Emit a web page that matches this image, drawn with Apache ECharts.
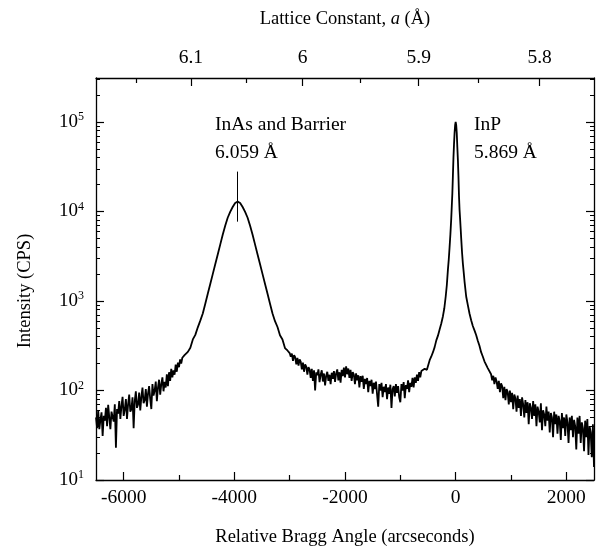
<!DOCTYPE html>
<html>
<head>
<meta charset="utf-8">
<title>XRD rocking curve</title>
<script src="https://cdn.jsdelivr.net/npm/echarts@6/dist/echarts.min.js"></script>
<style>
html, body { margin: 0; padding: 0; background: #fff; }
#chart { width: 597px; height: 552px; }
</style>
</head>
<body>
<div id="chart"></div>
<script>
var angle = [
	// background, low-angle side
	-6500,-6480,-6460,-6440,-6420,-6400,-6380,-6360,-6340,-6320,-6300,-6280,-6260,-6240,-6220,-6200,-6180,-6160,-6140,-6120,
	-6100,-6080,-6060,-6040,-6020,-6000,-5980,-5960,-5940,-5920,-5900,-5880,-5860,-5840,-5820,-5800,-5780,-5760,-5740,-5720,
	-5700,-5680,-5660,-5640,-5620,-5600,-5580,-5560,-5540,-5520,-5500,-5480,-5460,-5440,-5420,-5400,-5380,-5360,-5340,-5320,
	-5300,-5280,-5260,-5240,-5220,-5200,-5180,-5160,-5140,-5120,-5100,-5080,-5060,-5040,-5020,-5000,-4980,-4960,-4940,-4920,
	-4900,-4880,
	// InAs / barrier peak
	-4840,-4795,-4750,-4705,-4660,-4615,-4570,-4525,-4480,-4435,-4390,-4345,-4300,-4255,-4210,-4165,-4120,-4075,-4030,-3985,
	-3940,-3895,-3850,-3805,-3760,-3715,-3670,-3625,-3580,-3535,-3490,-3445,-3400,-3355,-3310,-3265,-3220,-3175,-3130,-3085,-3040,
	// between the peaks
	-3000,-2980,-2960,-2940,-2920,-2900,-2880,-2860,-2840,-2820,-2800,-2780,-2760,-2740,-2720,-2700,-2680,-2660,-2640,-2620,
	-2600,-2580,-2560,-2540,-2520,-2500,-2480,-2460,-2440,-2420,-2400,-2380,-2360,-2340,-2320,-2300,-2280,-2260,-2240,-2220,
	-2200,-2180,-2160,-2140,-2120,-2100,-2080,-2060,-2040,-2020,-2000,-1980,-1960,-1940,-1920,-1900,-1880,-1860,-1840,-1820,
	-1800,-1780,-1760,-1740,-1720,-1700,-1680,-1660,-1640,-1620,-1600,-1580,-1560,-1540,-1520,-1500,-1480,-1460,-1440,-1420,
	-1400,-1380,-1360,-1340,-1320,-1300,-1280,-1260,-1240,-1220,-1200,-1180,-1160,-1140,-1120,-1100,-1080,-1060,-1040,-1020,
	-1000,-980,-960,-940,-920,-900,-880,-860,-840,-820,-800,-780,-760,-740,-720,-700,-680,-660,-640,-620,
	// InP substrate peak
	-600,-560,-520,-470,-440,-410,-380,-350,-320,-290,-260,-230,-205,-180,-160,-140,-125,-110,-95,-80,-70,-60,-50,-40,-30,-20,-10,
	0,10,20,30,40,50,60,70,80,90,100,115,130,145,160,190,220,250,280,310,340,370,400,430,460,490,520,550,580,610,
	// background, high-angle side
	640,660,680,700,720,740,760,780,800,820,840,860,880,900,920,940,960,980,1000,1020,
	1040,1060,1080,1100,1120,1140,1160,1180,1200,1220,1240,1260,1280,1300,1320,1340,1360,1380,1400,1420,
	1440,1460,1480,1500,1520,1540,1560,1580,1600,1620,1640,1660,1680,1700,1720,1740,1760,1780,1800,1820,
	1840,1860,1880,1900,1920,1940,1960,1980,2000,2020,2040,2060,2080,2100,2120,2140,2160,2180,2200,2220,
	2240,2260,2280,2300,2320,2340,2360,2380,2400,2420,2440,2460,2480,2500
];
var intensity = [
	50,38,60,37,47,57,31,52,46,64,40,69,50,37,58,56,45,70,23,62,
	55,76,48,67,85,52,61,80,48,70,90,58,62,84,38,76,98,64,70,95,
	60,85,108,72,78,104,66,92,112,80,62,118,88,100,126,76,108,132,90,118,
	140,98,125,108,152,112,160,128,175,140,168,150,195,162,205,182,222,200,232,222,
	248,246,
	270,300,372,418,508,603,724,933,1202,1549,1995,2570,3311,4266,5495,6918,8511,9886,11220,12445,
	12882,12445,11220,9886,8511,6918,5495,4266,3311,2570,1995,1549,1202,933,724,595,512,415,372,298,280,
	262,238,258,214,248,235,196,232,190,222,210,172,205,162,196,185,150,182,172,138,
	175,128,168,100,160,148,172,124,150,168,126,155,114,146,162,128,150,118,158,135,
	165,125,155,172,130,160,122,170,145,180,140,186,152,176,138,170,128,160,150,118,
	155,130,148,108,145,125,146,104,135,118,138,96,128,112,132,92,122,104,126,90,
	66,118,100,122,84,110,96,118,80,108,92,116,64,104,112,86,118,94,112,84,
	74,118,100,124,82,115,104,130,96,122,110,138,108,140,122,150,128,160,140,165,
	160,175,170,218,240,268,305,363,410,479,560,676,830,1122,1500,2239,2900,3981,5600,8318,11500,15849,25000,39811,56234,75000,92000,
	100000,92000,75000,52481,38000,25119,15000,10500,8318,6500,5012,3500,2630,2100,1660,1122,900,724,610,525,470,417,360,316,268,240,212,205,178,170,
	152,130,146,118,140,126,104,128,96,120,112,82,110,78,104,96,70,100,74,94,
	62,90,82,58,88,64,80,52,84,70,50,78,56,74,42,72,64,48,76,52,
	70,40,66,58,44,72,36,60,54,40,66,46,58,34,56,50,30,58,42,54,
	33,52,46,28,56,38,50,31,54,44,26,50,36,52,30,47,40,22,50,33,
	52,26,44,38,21,46,30,48,19,40,34,18,42,14
];

var xMajorTicks = [-6000, -4000, -2000, 0, 2000];
var xMinorTicks = [-5000, -3000, -1000, 1000];
var yMajorTicks = [10, 100, 1000, 10000, 100000];
var latticeMajor = [6.1, 6.0, 5.9, 5.8];
var latticeMinor = [6.15, 6.05, 5.95, 5.85, 5.75];

// InAs peak marker
var markAngle = -3940;
var markRange = [7700, 27900];

var FONT = 'Liberation Serif';

// (004) reflection, Cu K-alpha1, InP substrate at zero
var lambda = 1.5406, aSub = 5.869;
function latticeToAngle(a) {
	var t0 = Math.asin(2 * lambda / aSub);
	var t = Math.asin(2 * lambda / a);
	return (t - t0) * 180 / Math.PI * 3600;
}
var latticeMajorPos = latticeMajor.map(latticeToAngle);
var latticeMinorPos = latticeMinor.map(latticeToAngle);

var yMinorTicks = [];
yMajorTicks.forEach(function(d) {
	for (var m = 2; m <= 9; m++) yMinorTicks.push(m * d);
});

var points = angle.map(function(x, i) { return [x, intensity[i]]; });

var X_MIN = -6500, X_MAX = 2500, Y_MIN = 10, Y_MAX = 310000;
var black = '#000';

function xAxisBase(pos) {
	return {
		type: 'value', position: pos, min: X_MIN, max: X_MAX,
		splitLine: { show: false },
		axisLine: { show: true, onZero: false, lineStyle: { color: black, width: 1.3 } }
	};
}
function yAxisBase(pos) {
	return {
		type: 'log', logBase: 10, position: pos, min: Y_MIN, max: Y_MAX,
		splitLine: { show: false },
		axisLine: { show: true, onZero: false, lineStyle: { color: black, width: 1.3 } }
	};
}

// bottom axis, major
var x0 = xAxisBase('bottom');
x0.axisTick = { inside: true, length: 8, customValues: xMajorTicks, lineStyle: { color: black, width: 1.2 } };
x0.axisLabel = { customValues: xMajorTicks, color: black, fontFamily: FONT, fontSize: 19.5, margin: 8,
	formatter: function(v) { return String(v); } };
x0.name = 'Relative Bragg Angle (arcseconds)';
x0.nameLocation = 'middle';
x0.nameGap = 48;
x0.nameTextStyle = { color: black, fontFamily: FONT, fontSize: 18.5 };

// bottom axis, minor
var x1 = xAxisBase('bottom');
x1.axisLine.show = false;
x1.axisTick = { inside: true, length: 5, customValues: xMinorTicks, lineStyle: { color: black, width: 1.2 } };
x1.axisLabel = { show: false };

// top axis, lattice constant
var x2 = xAxisBase('top');
x2.axisTick = { inside: true, length: 8, customValues: latticeMajorPos, lineStyle: { color: black, width: 1.2 } };
x2.axisLabel = { customValues: latticeMajorPos, color: black, fontFamily: FONT, fontSize: 19.5, margin: 10,
	formatter: function(v) {
		for (var i = 0; i < latticeMajorPos.length; i++) {
			if (Math.abs(latticeMajorPos[i] - v) < 1) return String(latticeMajor[i]);
		}
		return '';
	} };
x2.name = '{n|Lattice Constant, }{i|a}{n| (Å)}';
x2.nameLocation = 'middle';
x2.nameGap = 49;
x2.nameTextStyle = { rich: {
	n: { color: black, fontFamily: FONT, fontSize: 18.5 },
	i: { color: black, fontFamily: FONT, fontSize: 18.5, fontStyle: 'italic' }
} };

var x3 = xAxisBase('top');
x3.axisLine.show = false;
x3.axisTick = { inside: true, length: 5, customValues: latticeMinorPos, lineStyle: { color: black, width: 1.2 } };
x3.axisLabel = { show: false };

// left axis
var y0 = yAxisBase('left');
y0.axisTick = { inside: true, length: 8, customValues: yMajorTicks, lineStyle: { color: black, width: 1.2 } };
y0.axisLabel = { customValues: yMajorTicks, margin: 12,
	formatter: function(v) {
		var e = Math.round(Math.log(v) / Math.LN10);
		return '{b|10}{s|' + e + '}';
	},
	rich: {
		b: { color: black, fontFamily: FONT, fontSize: 19, lineHeight: 22 },
		s: { color: black, fontFamily: FONT, fontSize: 12, lineHeight: 12, verticalAlign: 'top' }
	} };

var y1 = yAxisBase('left');
y1.axisLine.show = false;
y1.axisTick = { inside: true, length: 4, customValues: yMinorTicks, lineStyle: { color: black, width: 1 } };
y1.axisLabel = { show: false };

// right frame
var y2 = yAxisBase('right');
y2.axisTick = { inside: true, length: 8, customValues: yMajorTicks, lineStyle: { color: black, width: 1.2 } };
y2.axisLabel = { show: false };

var y3 = yAxisBase('right');
y3.axisLine.show = false;
y3.axisTick = { inside: true, length: 4, customValues: yMinorTicks, lineStyle: { color: black, width: 1 } };
y3.axisLabel = { show: false };

var txt = '19.5px "' + FONT + '"';

var option = {
	animation: false,
	backgroundColor: '#fff',
	textStyle: { fontFamily: FONT, color: black },
	grid: { left: 96, right: 3, top: 78, bottom: 72, containLabel: false, outerBoundsMode: 'none' },
	xAxis: [x0, x1, x2, x3],
	yAxis: [y0, y1, y2, y3],
	graphic: [
		{ type: 'text', x: 25, y: 291, rotation: Math.PI / 2,
			style: { text: 'Intensity (CPS)', font: '18.5px "' + FONT + '"', fill: black, align: 'center', verticalAlign: 'middle' } },
		{ type: 'text', x: 215, y: 125, style: { text: 'InAs and Barrier', font: txt, fill: black, align: 'left', verticalAlign: 'middle' } },
		{ type: 'text', x: 215, y: 153, style: { text: '6.059 Å', font: txt, fill: black, align: 'left', verticalAlign: 'middle' } },
		{ type: 'text', x: 474, y: 125, style: { text: 'InP', font: txt, fill: black, align: 'left', verticalAlign: 'middle' } },
		{ type: 'text', x: 474, y: 153, style: { text: '5.869 Å', font: txt, fill: black, align: 'left', verticalAlign: 'middle' } }
	],
	series: [
		{
			type: 'line',
			xAxisIndex: 0,
			yAxisIndex: 0,
			data: points,
			symbol: 'none',
			showSymbol: false,
			lineStyle: { color: black, width: 1.8 },
			markLine: {
				silent: true,
				symbol: ['none', 'none'],
				label: { show: false },
				lineStyle: { color: black, width: 1, type: 'solid' },
				data: [[{ coord: [markAngle, markRange[0]] }, { coord: [markAngle, markRange[1]] }]]
			}
		}
	]
};

var myChart = echarts.init(document.getElementById('chart'));
myChart.setOption(option);
</script>
</body>
</html>
